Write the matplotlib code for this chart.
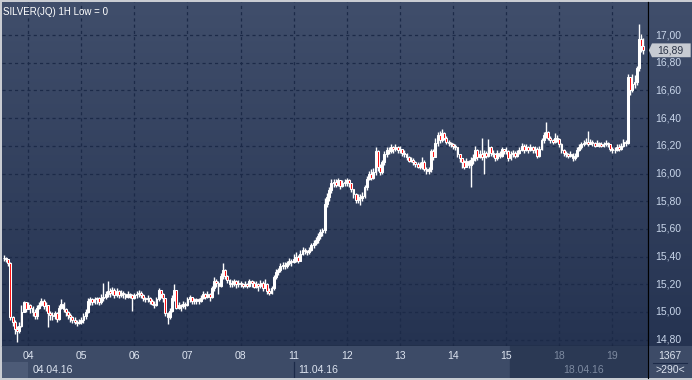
import matplotlib
matplotlib.use("Agg")
import matplotlib.pyplot as plt
import numpy as np
from matplotlib.colors import LinearSegmentedColormap
from matplotlib.patches import Polygon, Rectangle

plt.rcParams['font.family'] = ['Liberation Sans', 'DejaVu Sans']

# hourly SILVER candles (close / high / low), 290 bars
close = [15.39, 15.38, 15.35, 14.96, 14.93, 14.88, 14.86, 14.90, 15.00, 15.07, 15.02,
         15.05, 15.03, 15.00, 14.97, 15.03, 15.05, 15.08, 15.04, 15.05, 14.99, 14.98, 14.97,
         14.99, 14.95, 15.03, 15.06, 15.02, 15.00, 14.98, 14.96, 14.94, 14.93, 14.92, 14.93,
         14.94, 14.97, 15.00, 15.08, 15.09, 15.07, 15.09, 15.10, 15.07, 15.10, 15.11, 15.13,
         15.15, 15.14, 15.16, 15.12, 15.15, 15.12, 15.14, 15.13, 15.11, 15.13, 15.12, 15.10,
         15.12, 15.13, 15.14, 15.12, 15.10, 15.09, 15.10, 15.08, 15.06, 15.05, 15.09, 15.16,
         15.13, 15.10, 14.99, 14.96, 15.01, 15.10, 15.16, 15.03, 15.05, 15.04, 15.06, 15.05,
         15.09, 15.11, 15.08, 15.08, 15.09, 15.08, 15.10, 15.13, 15.11, 15.13, 15.11, 15.17,
         15.22, 15.21, 15.19, 15.26, 15.30, 15.26, 15.23, 15.20, 15.21, 15.22, 15.20, 15.21,
         15.20, 15.19, 15.20, 15.19, 15.22, 15.21, 15.18, 15.20, 15.19, 15.21, 15.17, 15.20,
         15.15, 15.14, 15.17, 15.25, 15.29, 15.30, 15.33, 15.34, 15.33, 15.35, 15.37, 15.36,
         15.38, 15.40, 15.37, 15.42, 15.45, 15.44, 15.43, 15.45, 15.48, 15.50, 15.52, 15.55,
         15.58, 15.59, 15.78, 15.83, 15.88, 15.93, 15.94, 15.92, 15.95, 15.91, 15.93, 15.94,
         15.95, 15.93, 15.89, 15.85, 15.81, 15.83, 15.82, 15.84, 15.90, 15.96, 16.00, 15.97,
         16.01, 16.16, 16.05, 16.01, 16.08, 16.14, 16.17, 16.16, 16.19, 16.18, 16.19, 16.17,
         16.18, 16.15, 16.14, 16.12, 16.09, 16.10, 16.08, 16.07, 16.05, 16.06, 16.08, 16.03,
         16.02, 16.03, 16.16, 16.12, 16.22, 16.28, 16.24, 16.29, 16.26, 16.23, 16.22, 16.21,
         16.20, 16.19, 16.14, 16.11, 16.08, 16.05, 16.09, 16.06, 16.10, 16.11, 16.17, 16.12,
         16.14, 16.12, 16.15, 16.13, 16.19, 16.15, 16.14, 16.11, 16.15, 16.13, 16.18, 16.16,
         16.16, 16.11, 16.14, 16.15, 16.13, 16.15, 16.17, 16.20, 16.17, 16.19, 16.17, 16.19,
         16.17, 16.18, 16.13, 16.18, 16.24, 16.28, 16.30, 16.26, 16.24, 16.23, 16.26, 16.25,
         16.21, 16.17, 16.15, 16.14, 16.13, 16.14, 16.11, 16.13, 16.17, 16.19, 16.21, 16.22,
         16.23, 16.21, 16.23, 16.22, 16.20, 16.22, 16.21, 16.20, 16.21, 16.22, 16.21, 16.18,
         16.17, 16.17, 16.19, 16.18, 16.20, 16.23, 16.22, 16.70, 16.60, 16.65, 16.66, 16.76,
         16.97, 16.92, 16.89]
high = [15.41, 15.40, 15.38, 15.36, 14.97, 14.94, 14.90, 14.93, 15.05, 15.08, 15.06,
        15.07, 15.06, 15.04, 15.02, 15.05, 15.07, 15.10, 15.09, 15.07, 15.05, 15.01, 15.00,
        15.01, 15.00, 15.05, 15.09, 15.07, 15.03, 15.01, 14.99, 14.97, 14.96, 14.94, 14.95,
        14.96, 14.99, 15.02, 15.10, 15.11, 15.10, 15.11, 15.11, 15.11, 15.13, 15.21, 15.15,
        15.22, 15.17, 15.18, 15.17, 15.17, 15.16, 15.16, 15.15, 15.14, 15.15, 15.14, 15.13,
        15.14, 15.15, 15.16, 15.15, 15.13, 15.11, 15.12, 15.11, 15.09, 15.08, 15.11, 15.17,
        15.16, 15.14, 15.09, 15.00, 15.03, 15.12, 15.20, 15.16, 15.07, 15.06, 15.08, 15.07,
        15.11, 15.12, 15.11, 15.10, 15.10, 15.10, 15.12, 15.15, 15.14, 15.15, 15.14, 15.19,
        15.25, 15.24, 15.22, 15.28, 15.35, 15.31, 15.27, 15.24, 15.23, 15.24, 15.23, 15.23,
        15.22, 15.21, 15.22, 15.21, 15.24, 15.23, 15.22, 15.22, 15.21, 15.23, 15.22, 15.24,
        15.21, 15.17, 15.19, 15.27, 15.31, 15.32, 15.35, 15.36, 15.36, 15.37, 15.39, 15.38,
        15.42, 15.43, 15.41, 15.45, 15.47, 15.46, 15.45, 15.47, 15.50, 15.52, 15.54, 15.57,
        15.60, 15.61, 15.82, 15.86, 15.90, 15.96, 15.96, 15.96, 15.97, 15.95, 15.95, 15.96,
        15.97, 15.96, 15.93, 15.89, 15.86, 15.85, 15.85, 15.87, 15.92, 15.98, 16.02, 16.03,
        16.04, 16.19, 16.17, 16.07, 16.10, 16.16, 16.19, 16.19, 16.21, 16.20, 16.21, 16.20,
        16.20, 16.18, 16.17, 16.15, 16.13, 16.12, 16.11, 16.09, 16.08, 16.08, 16.12, 16.10,
        16.05, 16.05, 16.18, 16.18, 16.26, 16.30, 16.31, 16.32, 16.30, 16.27, 16.24, 16.23,
        16.22, 16.21, 16.19, 16.14, 16.11, 16.10, 16.11, 16.10, 16.12, 16.14, 16.20, 16.18,
        16.17, 16.26, 16.17, 16.16, 16.25, 16.20, 16.17, 16.15, 16.17, 16.16, 16.19, 16.18,
        16.19, 16.17, 16.16, 16.17, 16.16, 16.17, 16.19, 16.22, 16.21, 16.21, 16.20, 16.21,
        16.20, 16.20, 16.19, 16.20, 16.26, 16.30, 16.37, 16.31, 16.27, 16.25, 16.29, 16.28,
        16.26, 16.22, 16.18, 16.16, 16.15, 16.16, 16.15, 16.15, 16.19, 16.21, 16.23, 16.24,
        16.26, 16.31, 16.25, 16.24, 16.23, 16.24, 16.23, 16.23, 16.23, 16.24, 16.23, 16.21,
        16.19, 16.19, 16.21, 16.21, 16.22, 16.25, 16.24, 16.72, 16.70, 16.72, 16.71, 16.78,
        17.08, 17.01, 16.98]
low = [15.37, 15.36, 15.33, 14.94, 14.90, 14.84, 14.78, 14.85, 14.89, 15.00, 15.00,
       15.02, 14.99, 14.97, 14.95, 14.95, 15.02, 15.04, 15.02, 15.01, 14.89, 14.94, 14.94,
       14.95, 14.93, 14.94, 15.02, 15.00, 14.97, 14.95, 14.93, 14.92, 14.91, 14.90, 14.91,
       14.91, 14.92, 14.95, 14.99, 15.05, 15.05, 15.06, 15.06, 15.05, 15.06, 15.08, 15.09,
       15.11, 15.11, 15.12, 15.10, 15.11, 15.10, 15.11, 15.10, 15.09, 15.10, 15.10, 15.01,
       15.09, 15.10, 15.11, 15.10, 15.08, 15.07, 15.07, 15.06, 15.05, 15.03, 15.04, 15.08,
       15.10, 15.07, 14.97, 14.91, 14.95, 15.00, 15.08, 15.02, 15.02, 15.01, 15.03, 15.02,
       15.04, 15.07, 15.06, 15.06, 15.06, 15.06, 15.07, 15.09, 15.09, 15.10, 15.08, 15.10,
       15.15, 15.18, 15.13, 15.18, 15.24, 15.24, 15.21, 15.18, 15.18, 15.19, 15.17, 15.18,
       15.18, 15.17, 15.18, 15.17, 15.18, 15.18, 15.17, 15.17, 15.15, 15.17, 15.15, 15.17,
       15.13, 15.12, 15.13, 15.16, 15.24, 15.27, 15.29, 15.31, 15.31, 15.32, 15.34, 15.33,
       15.35, 15.36, 15.35, 15.37, 15.41, 15.42, 15.41, 15.42, 15.44, 15.46, 15.48, 15.50,
       15.53, 15.55, 15.57, 15.76, 15.80, 15.86, 15.90, 15.90, 15.91, 15.89, 15.90, 15.91,
       15.91, 15.90, 15.87, 15.82, 15.79, 15.79, 15.77, 15.80, 15.82, 15.88, 15.95, 15.95,
       15.96, 15.99, 16.02, 15.99, 16.00, 16.06, 16.12, 16.14, 16.15, 16.15, 16.16, 16.15,
       16.15, 16.13, 16.12, 16.10, 16.08, 16.08, 16.06, 16.05, 16.04, 16.03, 16.03, 16.02,
       16.00, 16.00, 16.01, 16.10, 16.12, 16.20, 16.22, 16.23, 16.24, 16.21, 16.20, 16.19,
       16.18, 16.17, 16.12, 16.08, 16.04, 16.03, 16.05, 16.04, 15.90, 16.07, 16.09, 16.10,
       16.11, 16.10, 16.00, 16.11, 16.12, 16.13, 16.12, 16.09, 16.10, 16.11, 16.12, 16.14,
       16.14, 16.09, 16.10, 16.12, 16.11, 16.12, 16.14, 16.16, 16.15, 16.16, 16.15, 16.16,
       16.15, 16.15, 16.11, 16.12, 16.17, 16.22, 16.26, 16.24, 16.22, 16.21, 16.22, 16.23,
       16.19, 16.15, 16.13, 16.12, 16.11, 16.12, 16.09, 16.10, 16.12, 16.16, 16.18, 16.20,
       16.21, 16.20, 16.21, 16.20, 16.19, 16.20, 16.19, 16.19, 16.19, 16.20, 16.19, 16.16,
       16.15, 16.15, 16.16, 16.16, 16.17, 16.19, 16.20, 16.21, 16.57, 16.59, 16.62, 16.64,
       16.74, 16.88, 16.86]

day_labels = ["04", "05", "06", "07", "08", "11", "12", "13", "14", "15", "18", "19"]
day_start = [11, 35, 59, 83, 107, 131, 155, 179, 203, 227, 251, 275]
week_labels = ["04.04.16", "11.04.16", "18.04.16"]
week_start = [11, 131, 251]
price_ticks = [14.8, 15.0, 15.2, 15.4, 15.6, 15.8, 16.0, 16.2, 16.4, 16.6, 16.8, 17.0]
last_price = 16.89

W, H = 692, 380
fig = plt.figure(figsize=(W / 100, H / 100), dpi=100)
fig.patch.set_facecolor('#c9ccd2')


def px_axes(x0, y0, x1, y1):
    return fig.add_axes([x0 / W, 1 - y1 / H, (x1 - x0) / W, (y1 - y0) / H])


grad = LinearSegmentedColormap.from_list('bg', ['#253351', '#404e6b'])
gimg = np.linspace(0, 1, 256).reshape(-1, 1)

xmin, xmax = -0.8, 291.1
ymin, ymax = 14.754, 17.239

# main price area
ax = px_axes(2, 2, 648, 346)
ax.imshow(gimg, cmap=grad, aspect='auto', origin='lower',
          extent=[xmin, xmax, ymin, ymax], zorder=0)
ax.set_xlim(xmin, xmax)
ax.set_ylim(ymin, ymax)
for d in day_start:
    ax.axvline(d, color='#1c2a48', lw=0.9, ls=(0, (2.5, 2.5)), zorder=1)
for p in price_ticks:
    ax.axhline(p, color='#1c2a48', lw=0.9, ls=(0, (2.5, 2.5)), zorder=1)

x = np.arange(len(close))
opens = [close[0]] + close[:-1]
ax.vlines(x, low, high, color='white', lw=1.0, zorder=2)
for i in range(len(close)):
    o, c = opens[i], close[i]
    fc = '#ff0a0a' if c < o else 'white'
    ax.add_patch(Rectangle((i - 0.42, min(o, c)), 0.84, abs(c - o),
                           facecolor=fc, edgecolor='white', lw=0.75, zorder=3))
ax.text(0.002, 0.985, "SILVER(JQ) 1H Low = 0", transform=ax.transAxes,
        color='white', fontsize=7, va='top', ha='left', zorder=5)
ax.set_xticks([])
ax.set_yticks([])
for s in ax.spines.values():
    s.set_visible(False)
ax.spines['right'].set_visible(True)
ax.spines['right'].set_color('black')
ax.spines['bottom'].set_visible(True)
ax.spines['bottom'].set_color('black')

# right price scale
ar = px_axes(648, 2, 692, 346)
ar.imshow(gimg, cmap=grad, aspect='auto', origin='lower',
          extent=[0, 1, ymin, ymax], zorder=0)
ar.set_xlim(0, 1)
ar.set_ylim(ymin, ymax)
for p in price_ticks:
    ar.text(0.16, p, f"{p:.2f}".replace('.', ','), color='#c9d6ea',
            fontsize=7.5, va='center', ha='left')
ar.add_patch(Polygon([[0.02, last_price], [0.09, last_price + 0.05],
                      [0.97, last_price + 0.05], [0.97, last_price - 0.05],
                      [0.09, last_price - 0.05]], closed=True,
                     facecolor='#c7cbd2', edgecolor='none', zorder=3))
ar.text(0.2, last_price, f"{last_price:.2f}".replace('.', ','), color='#2a3346',
        fontsize=7.5, va='center', ha='left', zorder=4)
ar.set_xticks([])
ar.set_yticks([])
for s in ar.spines.values():
    s.set_visible(False)
ar.spines['left'].set_visible(True)
ar.spines['left'].set_color('black')

# bottom time scale
ab = px_axes(2, 346, 648, 378)
ab.set_facecolor('#3d4b67')
ab.set_xlim(xmin, xmax)
ab.set_ylim(0, 1)
ab.add_patch(Rectangle((xmin, 0), 11 - xmin, 0.5, facecolor='#4d5b77', edgecolor='none'))
ab.axvspan(228.6, xmax, color='#2b3954', zorder=1)
ab.axvline(week_start[1], ymax=0.5, color='#1c2a48', lw=0.9)
for lab, d in zip(day_labels, day_start):
    col = '#7d8aa0' if d > 228 else '#dde4f0'
    ab.text(d, 0.68, lab, color=col, fontsize=7.5, ha='center', va='center', zorder=2)
for lab, d in zip(week_labels, week_start):
    col = '#7d8aa0' if d > 228 else '#dde4f0'
    ab.text(d + 2, 0.24, lab, color=col, fontsize=7.5, ha='left', va='center', zorder=2)
ab.set_xticks([])
ab.set_yticks([])
for s in ab.spines.values():
    s.set_visible(False)

# bottom-right counter box
ac = px_axes(648, 346, 692, 378)
ac.set_facecolor('#3d4b67')
ac.set_xlim(0, 1)
ac.set_ylim(0, 1)
ac.text(0.5, 0.7, "1367", color='#dde4f0', fontsize=7.5, ha='center', va='center')
ac.plot([0.12, 0.88], [0.47, 0.47], color='#1c2a48', lw=0.8)
ac.text(0.5, 0.24, ">290<", color='#dde4f0', fontsize=7.5, ha='center', va='center')
ac.set_xticks([])
ac.set_yticks([])
for s in ac.spines.values():
    s.set_visible(False)
ac.spines['left'].set_visible(True)
ac.spines['left'].set_color('black')

fig.savefig("out.png", dpi=100)
